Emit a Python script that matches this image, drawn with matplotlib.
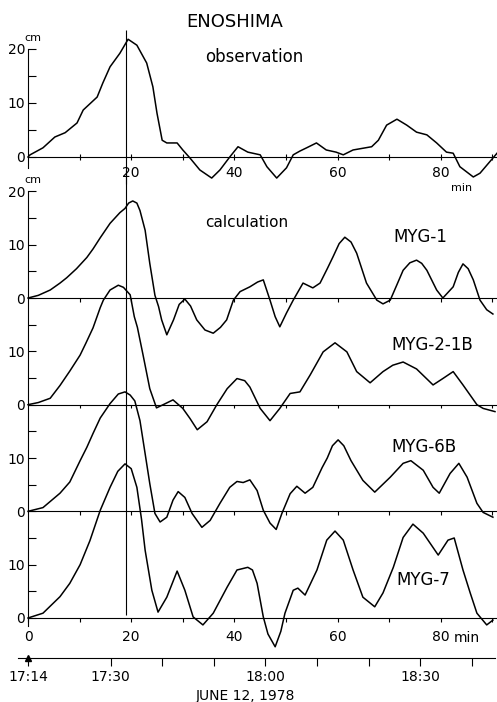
import matplotlib
matplotlib.use('Agg')
import matplotlib.pyplot as plt
from matplotlib.ticker import FixedLocator

# 1. Data (minutes after 17:14, sea level in cm)

obs_t = [0, 0.4, 2.9, 5.2, 7.2, 9.5, 10.7, 13.4, 14.5, 15.9, 17.8, 19.4, 21.1, 23.0, 24.2, 25.0, 26.0,
         26.9, 28.9, 30.0, 31.4, 33.3, 35.6, 37.2, 39.1, 40.7, 42.6, 45.0, 46.3, 48.2, 50.1, 51.4, 52.7,
         54.0, 55.9, 57.8, 59.7, 61.1, 63.0, 66.6, 67.9, 69.5, 71.5, 73.4, 75.3, 77.3, 79.2, 81.1, 82.4,
         83.7, 86.3, 87.6, 90.9]
obs_v = [0, 0.4, 1.7, 3.7, 4.5, 6.3, 8.7, 11.1, 13.7, 16.7, 19.2, 21.8, 20.7, 17.4, 13.0, 8.1, 3.1,
         2.6, 2.6, 1.3, -0.2, -2.4, -3.9, -2.4, 0.0, 1.9, 0.9, 0.4, -1.8, -3.9, -2.0, 0.4, 1.1,
         1.7, 2.6, 1.3, 0.9, 0.4, 1.3, 1.9, 3.1, 5.9, 7.0, 5.9, 4.6, 4.1, 2.6, 0.9, 0.7,
         -1.8, -3.7, -3.0, 0.7]

myg1_t = [0, 2.0, 4.3, 6.2, 7.5, 9.4, 11.4, 12.6, 14.0, 15.9, 17.8, 18.8, 19.5, 20.3, 21.1, 21.7, 22.7,
          23.6, 24.6, 25.3, 25.9, 26.9, 28.2, 29.3, 30.4, 31.5, 32.7, 34.3, 35.9, 37.3, 38.5, 39.8,
          41.1, 43.0, 44.5, 45.6, 46.9, 47.9, 48.8, 50.1, 51.4, 53.3, 55.2, 56.6, 58.0, 59.1, 60.3,
          61.4, 62.6, 63.7, 65.6, 67.6, 68.8, 70.2, 71.5, 72.7, 74.0, 75.3, 76.3, 77.3, 79.2, 80.4,
          82.4, 83.4, 84.3, 85.3, 86.3, 87.6, 88.9, 90.1]
myg1_v = [0, 0.5, 1.5, 2.8, 3.8, 5.5, 7.6, 9.2, 11.3, 14.0, 16.0, 16.8, 17.8, 18.2, 17.8, 16.4, 12.7,
          6.5, 0.5, -1.6, -4.1, -6.9, -4.1, -1.2, -0.2, -1.5, -4.1, -6.0, -6.6, -5.5, -4.1, -0.4,
          1.2, 2.1, 3.0, 3.4, -0.4, -3.5, -5.4, -2.8, -0.4, 2.8, 1.9, 2.8, 5.5, 7.7, 10.2,
          11.4, 10.5, 8.4, 2.8, -0.4, -1.1, -0.4, 2.5, 5.2, 6.6, 7.1, 6.5, 5.2, 1.5, 0.0,
          2.1, 4.8, 6.4, 5.5, 3.4, -0.4, -2.2, -3.0]

myg2_t = [0, 2.0, 4.3, 6.2, 8.1, 10.1, 11.2, 12.6, 14.0, 14.6, 15.9, 17.5, 18.5, 19.8, 20.6, 21.2,
          22.3, 23.6, 24.9, 26.2, 28.1, 30.0, 31.4, 32.8, 34.7, 36.6, 38.6, 40.5, 42.0, 43.0, 45.0,
          46.9, 48.8, 50.8, 52.7, 54.7, 57.2, 59.5, 61.8, 63.7, 66.3, 68.8, 70.7, 72.7, 75.3, 78.5,
          80.4, 82.4, 84.3, 87.0, 88.2, 90.5]
myg2_v = [0, 0.4, 1.2, 3.6, 6.3, 9.3, 11.5, 14.4, 18.2, 19.6, 21.5, 22.4, 22.0, 20.6, 16.5, 14.5,
          9.3, 3.0, -0.6, 0.0, 0.9, -0.7, -2.6, -4.7, -3.2, 0.0, 3.0, 4.9, 4.5, 3.3, -0.7,
          -3.0, -0.7, 2.1, 2.4, 5.6, 9.9, 11.6, 9.9, 6.2, 4.1, 6.2, 7.4, 8.0, 6.7, 3.7,
          4.9, 6.2, 3.7, 0.0, -0.7, -1.3]

myg6_t = [0, 2.9, 6.2, 8.1, 10.1, 11.4, 12.6, 14.0, 15.9, 17.5, 18.8, 19.8, 20.7, 21.7, 22.7, 23.6,
          24.6, 25.6, 26.9, 28.1, 29.1, 30.4, 31.8, 33.7, 35.3, 37.2, 39.1, 40.5, 41.7, 43.0, 44.4,
          45.6, 46.9, 48.1, 49.2, 50.8, 52.1, 53.7, 55.2, 57.0, 58.0, 59.0, 60.1, 61.2, 62.6, 64.9,
          67.2, 70.2, 72.7, 74.2, 76.6, 78.5, 79.7, 81.8, 83.5, 85.1, 87.0, 88.2, 90.1]
myg6_v = [0, 0.7, 3.4, 5.5, 9.5, 12.0, 14.6, 17.5, 20.2, 22.0, 22.4, 21.8, 20.7, 17.0, 10.8, 5.2,
          -0.4, -2.0, -1.1, 2.1, 3.7, 2.6, -0.4, -3.0, -1.7, 1.5, 4.5, 5.6, 5.4, 5.9, 3.9,
          0.2, -2.2, -3.4, -0.4, 3.3, 4.7, 3.4, 4.5, 8.2, 10.0, 12.3, 13.4, 12.3, 9.5, 5.8,
          3.6, 6.4, 9.0, 9.5, 7.7, 4.5, 3.4, 7.1, 9.0, 6.4, 1.5, -0.2, -1.1]

myg7_t = [0, 2.9, 6.2, 8.1, 10.1, 12.0, 14.0, 15.9, 17.4, 18.8, 20.0, 21.1, 22.0, 22.7, 24.0, 25.2,
          26.9, 28.9, 30.4, 32.0, 33.9, 35.9, 38.6, 40.5, 42.6, 43.5, 44.4, 45.6, 46.5, 47.9, 49.0,
          49.8, 51.4, 52.3, 53.7, 56.0, 57.9, 59.5, 61.1, 63.0, 64.9, 67.2, 68.8, 70.8, 72.7, 74.6,
          76.6, 79.5, 81.4, 82.6, 84.3, 85.7, 87.0, 88.9, 90.1]
myg7_v = [0, 0.9, 4.0, 6.5, 10.0, 14.5, 20.2, 24.5, 27.5, 28.9, 28.0, 24.5, 18.5, 12.7, 5.2, 1.1,
          3.9, 8.8, 5.2, 0.2, -1.3, 0.9, 5.8, 9.0, 9.5, 9.0, 6.5, 0.2, -3.0, -5.4, -2.5,
          0.9, 5.2, 5.6, 4.3, 9.0, 14.6, 16.3, 14.6, 9.0, 3.9, 2.1, 4.7, 9.5, 15.1, 17.6,
          15.9, 11.8, 14.6, 15.0, 9.0, 4.7, 0.9, -1.3, -0.4]

model_names = ['MYG-1', 'MYG-2-1B', 'MYG-6B', 'MYG-7']
peak_time = 19

clock_ticks = [0, 16, 26, 36, 46, 56, 66, 76, 86]
clock_labels = ['17:14', '17:30', '', '', '18:00', '', '', '18:30', '']

# 2. Layout

panel_offsets = [60, 40, 20, 0]
label_pos = [(70.9, 71.4), (70.5, 51.2), (70.5, 32.1), (71.3, 7.1)]
lw_curve = 1.1
lw_axis = 0.8

plt.rcParams['font.family'] = 'DejaVu Sans'
plt.rcParams['font.size'] = 10

fig = plt.figure(figsize=(4.97, 7.02), dpi=100)
left, width = 0.0304, 0.9759
xlim = (-2.5, 91.5)

ax_obs = fig.add_axes([left, 0.7379, width, 0.2231])
ax_calc = fig.add_axes([left, 0.0665, width, 0.6913])
ax_time = fig.add_axes([left, 1 - 658 / 702, width, 0.001])

for ax in (ax_obs, ax_calc, ax_time):
    ax.patch.set_alpha(0)
    ax.set_xlim(*xlim)
    ax.spines['top'].set_visible(False)
    ax.spines['right'].set_visible(False)
    for s in ax.spines.values():
        s.set_linewidth(lw_axis)

# 3. Observation panel
ax_obs.plot(obs_t, obs_v, color='k', lw=lw_curve, solid_joinstyle='round')
ax_obs.set_ylim(-5, 24)
ax_obs.spines['left'].set_position(('data', 0))
ax_obs.spines['bottom'].set_position(('data', 0))
ax_obs.spines['left'].set_bounds(-2, 20)
ax_obs.spines['bottom'].set_bounds(0, 91)
ax_obs.set_yticks([0, 10, 20])
ax_obs.yaxis.set_minor_locator(FixedLocator([5, 15]))
ax_obs.set_xticks(range(10, 100, 10), ['', '20', '', '40', '', '60', '', '80', ''])
ax_obs.tick_params(axis='y', which='both', direction='in', length=5.5, width=lw_axis, pad=2)
ax_obs.tick_params(axis='x', direction='inout', length=5, width=lw_axis, pad=4)
ax_obs.vlines(peak_time, -5, 23.5, color='k', lw=lw_axis, clip_on=False)
ax_obs.text(1.0, 22.0, 'cm', fontsize=8, ha='center', va='center')
ax_obs.text(84.1, -5.7, 'min', fontsize=8, ha='center', va='center', clip_on=False)
ax_obs.text(43.8, 18.5, 'observation', fontsize=12, ha='center', va='center')

# 4. Calculation panel, models stacked 20 cm apart
for name, t, v, off, pos in zip(model_names, [myg1_t, myg2_t, myg6_t, myg7_t],
                                [myg1_v, myg2_v, myg6_v, myg7_v], panel_offsets, label_pos):
    ax_calc.plot(t, [y + off for y in v], color='k', lw=lw_curve, solid_joinstyle='round')
    ax_calc.text(pos[0], pos[1], name, fontsize=12, ha='left', va='center')
    if off > 0:
        ax_calc.hlines(off, 0, 91, color='k', lw=lw_axis)
        ax_calc.vlines(range(10, 100, 10), off - 0.7, off, color='k', lw=lw_axis)

ax_calc.set_ylim(-7, 84)
ax_calc.spines['left'].set_position(('data', 0))
ax_calc.spines['bottom'].set_position(('data', 0))
ax_calc.spines['left'].set_bounds(-1.5, 80)
ax_calc.spines['bottom'].set_bounds(0, 91)
ax_calc.set_yticks(range(0, 90, 10), ['0', '10', '0', '10', '0', '10', '0', '10', '20'])
ax_calc.yaxis.set_minor_locator(FixedLocator(range(5, 80, 10)))
ax_calc.set_xticks(range(0, 100, 10), ['0', '', '20', '', '40', '', '60', '', '80', ''])
ax_calc.tick_params(axis='y', which='both', direction='in', length=5.5, width=lw_axis, pad=2)
ax_calc.tick_params(axis='x', direction='out', length=3, width=lw_axis, pad=5.5)
ax_calc.vlines(peak_time, 0.5, 84, color='k', lw=lw_axis, clip_on=False)
ax_calc.text(1.0, 82.1, 'cm', fontsize=8, ha='center', va='center')
ax_calc.text(85.1, -3.75, 'min', fontsize=10, ha='center', va='center')
ax_calc.text(42.4, 74.1, 'calculation', fontsize=11, ha='center', va='center')

# 5. Clock time axis
ax_time.set_ylim(0, 1)
ax_time.spines['left'].set_visible(False)
ax_time.spines['bottom'].set_bounds(-1.9, 90.5)
ax_time.set_yticks([])
ax_time.set_xticks(clock_ticks, clock_labels)
ax_time.tick_params(axis='x', direction='out', length=5.5, width=lw_axis, pad=3)
ax_time.plot([clock_ticks[0]], [0], marker='^', ms=4, color='k', clip_on=False)

fig.text(0.473, 1 - 22 / 702, 'ENOSHIMA', fontsize=13, ha='center', va='center')
fig.text(0.493, 1 - 696 / 702, 'JUNE 12, 1978', fontsize=10, ha='center', va='center')

fig.savefig('out.png', dpi=100)
